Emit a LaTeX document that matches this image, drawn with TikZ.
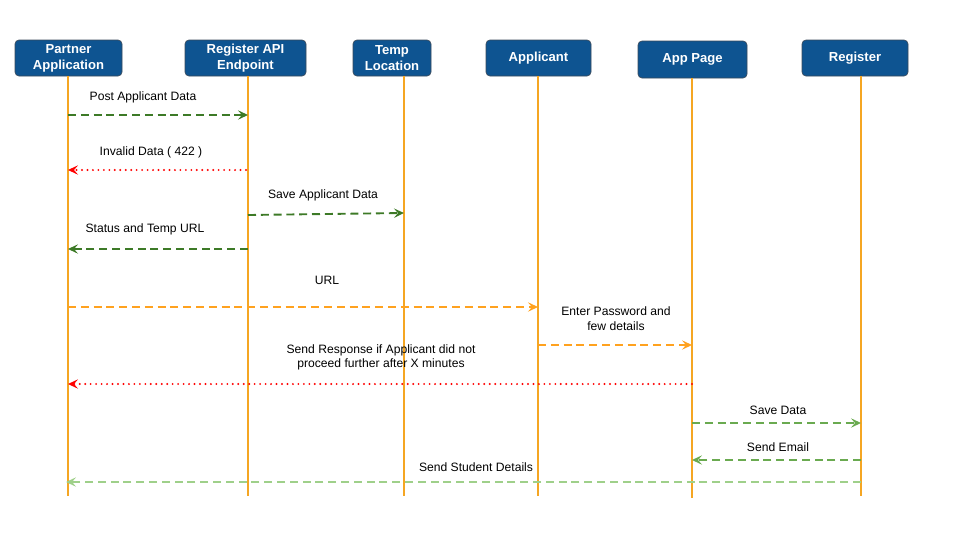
\documentclass[tikz,border=0pt]{standalone}
\usepackage{fontspec}
\setmainfont{Liberation Sans}
\usetikzlibrary{arrows.meta}
\definecolor{boxblue}{HTML}{0E5491}
\definecolor{boxedge}{HTML}{3B4A5A}
\definecolor{life}{HTML}{F5A623}
\definecolor{dgreen}{HTML}{3D7A27}
\definecolor{mgreen}{HTML}{6AAA50}
\definecolor{lgreen}{HTML}{9FD08A}
\definecolor{msgred}{HTML}{FF0000}
\definecolor{morange}{HTML}{FFA21F}
\tikzset{
  actor/.style={draw=boxedge, fill=boxblue, rounded corners=3pt, text=white,
    font=\fontsize{9.8pt}{12pt}\selectfont\bfseries, align=center, inner sep=0pt, line width=0.5pt},
  lifeline/.style={draw=life, line width=1.4pt},
  msg/.style={line width=1.4pt, dash pattern=on 6pt off 3.6pt, -{Stealth[length=7.5pt,width=7pt,inset=3pt]}},
  dotmsg/.style={line width=1.6pt, line cap=round, dash pattern=on 0pt off 4.1pt, -{Stealth[length=7.5pt,width=7pt,inset=3pt,line cap=butt]}},
  lbl/.style={font=\fontsize{9.1pt}{11pt}\selectfont, align=center, inner sep=0pt}
}
\begin{document}
\begin{tikzpicture}[x=0.75pt,y=-0.75pt]
\useasboundingbox (0,0) rectangle (960,540);
% actors
\node[actor, minimum width=80.25pt, minimum height=27pt] (pa) at (68.5,58) {Partner\\Application};
\node[actor, minimum width=90.75pt, minimum height=27pt] (api) at (245.5,58) {Register API\\Endpoint};
\node[actor, minimum width=58.5pt, minimum height=27pt] (tmp) at (392,58) {Temp\\Location};
\node[actor, minimum width=78.75pt, minimum height=27pt] (app) at (538.5,58) {Applicant};
\node[actor, minimum width=81.75pt, minimum height=27.75pt] (pg) at (692.5,59.5) {App Page};
\node[actor, minimum width=79.5pt, minimum height=27pt] (reg) at (855,58) {Register};
% lifeline ends
\coordinate (paE) at (68,496);
\coordinate (apiE) at (248,496);
\coordinate (tmpE) at (404,496);
\coordinate (appE) at (538,496);
\coordinate (pgE) at (692,498);
\coordinate (regE) at (861,496);
\draw[lifeline] (pa.south -| paE) -- (paE);
\draw[lifeline] (api.south -| apiE) -- (apiE);
\draw[lifeline] (tmp.south -| tmpE) -- (tmpE);
\draw[lifeline] (app.south -| appE) -- (appE);
\draw[lifeline] (pg.south -| pgE) -- (pgE);
\draw[lifeline] (reg.south -| regE) -- (regE);
% message end points
\coordinate (m1a) at (68,115);  \coordinate (m1b) at (248,115);
\coordinate (m2a) at (246,170); \coordinate (m2b) at (68,170);
\coordinate (m3a) at (248,215); \coordinate (m3b) at (404,213);
\coordinate (m4a) at (248,249); \coordinate (m4b) at (68,249);
\coordinate (m5a) at (68,307);  \coordinate (m5b) at (538,307);
\coordinate (m6a) at (538,345); \coordinate (m6b) at (692,345);
\coordinate (m7a) at (692,384); \coordinate (m7b) at (68,384);
\coordinate (m8a) at (692,423); \coordinate (m8b) at (861,423);
\coordinate (m9a) at (861,460); \coordinate (m9b) at (692,460);
\coordinate (m10a) at (861,482); \coordinate (m10b) at (66,482);
% messages
\draw[msg, dgreen] (m1a) -- (m1b);
\draw[dotmsg, msgred] (m2a) -- (m2b);
\draw[msg, dgreen] (m3a) -- (m3b);
\draw[msg, dgreen] (m4a) -- (m4b);
\draw[msg, morange] (m5a) -- (m5b);
\draw[msg, morange] (m6a) -- (m6b);
\draw[dotmsg, msgred] (m7a) -- (m7b);
\draw[msg, mgreen] (m8a) -- (m8b);
\draw[msg, mgreen] (m9a) -- (m9b);
\draw[msg, lgreen] (m10a) -- (m10b);
% labels
\node[lbl] (l1) at (143,97) {Post Applicant Data};
\node[lbl] (l2) at (151,152) {Invalid Data ( 422 )};
\node[lbl] (l3) at (323,195) {Save Applicant Data};
\node[lbl] (l4) at (145,229) {Status and Temp URL};
\node[lbl] (l5) at (327,280) {URL};
\node[lbl] (l6) at (616,318.5) {Enter Password and\\few details};
\node[lbl] (l7) at (381,357.5) {Send Response if Applicant did not\\proceed further after X minutes};
\node[lbl] (l8) at (778,410) {Save Data};
\node[lbl] (l9) at (778,447) {Send Email};
\node[lbl] (l10) at (476,467) {Send Student Details};
\end{tikzpicture}
\end{document}
